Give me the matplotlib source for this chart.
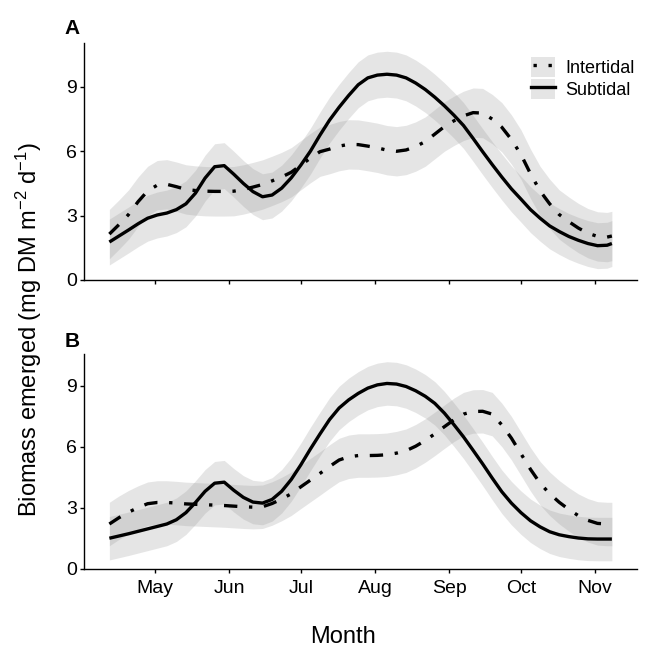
import matplotlib
matplotlib.use('Agg')
import matplotlib.pyplot as plt
from matplotlib.lines import Line2D
from matplotlib.patches import Patch

plt.rcParams['font.family'] = 'Liberation Sans'
plt.rcParams['mathtext.fontset'] = 'custom'
plt.rcParams['mathtext.rm'] = 'Liberation Sans'
plt.rcParams['mathtext.default'] = 'regular'

# day of year of each smoothed point
days = [102, 106, 110, 114, 118, 122, 126, 130, 134, 138, 142, 146, 150, 154, 158, 162, 166, 170,
        174, 178, 182, 186, 190, 194, 198, 202, 206, 210, 214, 218, 222, 226, 230, 234, 238, 242,
        246, 250, 254, 258, 262, 266, 270, 274, 278, 282, 286, 290, 294, 298, 302, 306, 310, 312]

# panel A (mg DM m-2 d-1)
a_sub = [1.77, 2.05, 2.33, 2.62, 2.88, 3.03, 3.12, 3.28, 3.55, 4.05, 4.75, 5.28, 5.33, 4.93, 4.50, 4.12, 3.88, 3.96,
         4.28, 4.76, 5.35, 6.00, 6.75, 7.45, 8.05, 8.60, 9.10, 9.42, 9.55, 9.59, 9.55, 9.42, 9.18, 8.88, 8.52, 8.12,
         7.68, 7.20, 6.60, 5.98, 5.38, 4.80, 4.25, 3.77, 3.28, 2.88, 2.52, 2.26, 2.03, 1.85, 1.70, 1.60, 1.62, 1.70]
a_int = [2.14, 2.58, 3.05, 3.65, 4.15, 4.42, 4.46, 4.35, 4.22, 4.17, 4.14, 4.13, 4.13, 4.14, 4.22, 4.33, 4.45, 4.62,
         4.80, 5.02, 5.35, 5.68, 5.98, 6.10, 6.24, 6.32, 6.31, 6.24, 6.16, 6.05, 6.00, 6.06, 6.22, 6.45, 6.80, 7.15,
         7.42, 7.65, 7.80, 7.78, 7.50, 7.12, 6.55, 5.85, 4.95, 4.15, 3.55, 3.05, 2.72, 2.42, 2.18, 2.03, 2.00, 2.05]

# panel B
b_sub = [1.49, 1.60, 1.71, 1.83, 1.95, 2.07, 2.19, 2.40, 2.75, 3.25, 3.80, 4.20, 4.25, 3.85, 3.50, 3.27, 3.22, 3.40,
         3.80, 4.38, 5.10, 5.88, 6.62, 7.33, 7.90, 8.30, 8.62, 8.88, 9.04, 9.11, 9.08, 8.96, 8.75, 8.48, 8.13, 7.65,
         7.08, 6.48, 5.82, 5.15, 4.45, 3.78, 3.22, 2.75, 2.35, 2.05, 1.81, 1.66, 1.57, 1.50, 1.46, 1.45, 1.45, 1.45]
b_int = [2.19, 2.50, 2.77, 3.00, 3.19, 3.25, 3.25, 3.22, 3.18, 3.16, 3.14, 3.12, 3.10, 3.07, 3.04, 3.02, 3.04, 3.20,
         3.42, 3.68, 4.02, 4.35, 4.68, 5.02, 5.34, 5.50, 5.56, 5.56, 5.57, 5.60, 5.68, 5.80, 6.02, 6.30, 6.63, 6.98,
         7.32, 7.60, 7.73, 7.74, 7.60, 7.07, 6.42, 5.65, 4.88, 4.20, 3.68, 3.26, 2.91, 2.60, 2.37, 2.22, 2.19, 2.19]

# half width of the confidence ribbons
a_sub_se, a_int_se = 1.07, 1.15
b_sub_se, b_int_se = 1.07, 1.07

month_days = [121, 152, 182, 213, 244, 274, 305]
month_labels = ['May', 'Jun', 'Jul', 'Aug', 'Sep', 'Oct', 'Nov']

W, H = 646, 656
fig = plt.figure(figsize=(W / 100, H / 100), dpi=100)

dotdash = (0, (4, 3.5, 1, 3.5))
lw = 2.4
band = dict(color='#999999', alpha=0.25, linewidth=0)


def draw_panel(ax, sub, inte, sub_se, int_se, ymax, letter, show_x):
    ax.fill_between(days, [v - sub_se for v in sub], [v + sub_se for v in sub], **band)
    ax.fill_between(days, [v - int_se for v in inte], [v + int_se for v in inte], **band)
    ax.plot(days, inte, color='black', lw=lw, linestyle=dotdash, dash_capstyle='butt')
    ax.plot(days, sub, color='black', lw=lw, solid_capstyle='butt')
    ax.set_xlim(91.4, 322.5)
    ax.set_ylim(0, ymax)
    ax.set_yticks([0, 3, 6, 9])
    ax.set_xticks(month_days)
    if show_x:
        ax.set_xticklabels(month_labels)
    else:
        ax.set_xticklabels([])
    ax.spines['top'].set_visible(False)
    ax.spines['right'].set_visible(False)
    for s in ['left', 'bottom']:
        ax.spines[s].set_linewidth(1.0)
    ax.tick_params(axis='y', length=3, width=1.0, labelsize=14, pad=2, colors='black')
    ax.tick_params(axis='x', length=3, width=1.0, labelsize=14, pad=5, colors='black')
    ax.text(-0.022, 1.06, letter, transform=ax.transAxes, fontsize=15,
            fontweight='bold', ha='center', va='center')


ax_a = fig.add_axes([84 / W, 1 - 280 / H, 553 / W, 237.3 / H])
ax_b = fig.add_axes([84 / W, 1 - 568.5 / H, 553 / W, 214.5 / H])

draw_panel(ax_a, a_sub, a_int, a_sub_se, a_int_se, 11.06, 'A', False)
draw_panel(ax_b, b_sub, b_int, b_sub_se, b_int_se, 10.56, 'B', True)

# legend in panel A
h_int = (Patch(facecolor='#999999', alpha=0.25, linewidth=0),
         Line2D([], [], color='black', lw=lw, linestyle=(3.9, (1, 3.5)), dash_capstyle='butt'))
h_sub = (Patch(facecolor='#999999', alpha=0.25, linewidth=0),
         Line2D([], [], color='black', lw=lw))
fig.legend([h_int, h_sub], ['Intertidal', 'Subtidal'], loc='upper left',
           bbox_to_anchor=(531 / W, 1 - 56.7 / H), frameon=False, fontsize=13,
           handlelength=1.33, handleheight=1.33, labelspacing=0.1,
           handletextpad=0.55, borderpad=0, borderaxespad=0)

fig.text(29 / W, 1 - 330 / H, 'Biomass emerged (mg DM m$^{-2}$ d$^{-1}$)',
         rotation=90, ha='center', va='center', fontsize=17)
fig.text(343 / W, 1 - 637 / H, 'Month', ha='center', va='center', fontsize=17)

fig.savefig('out.png', dpi=100)
